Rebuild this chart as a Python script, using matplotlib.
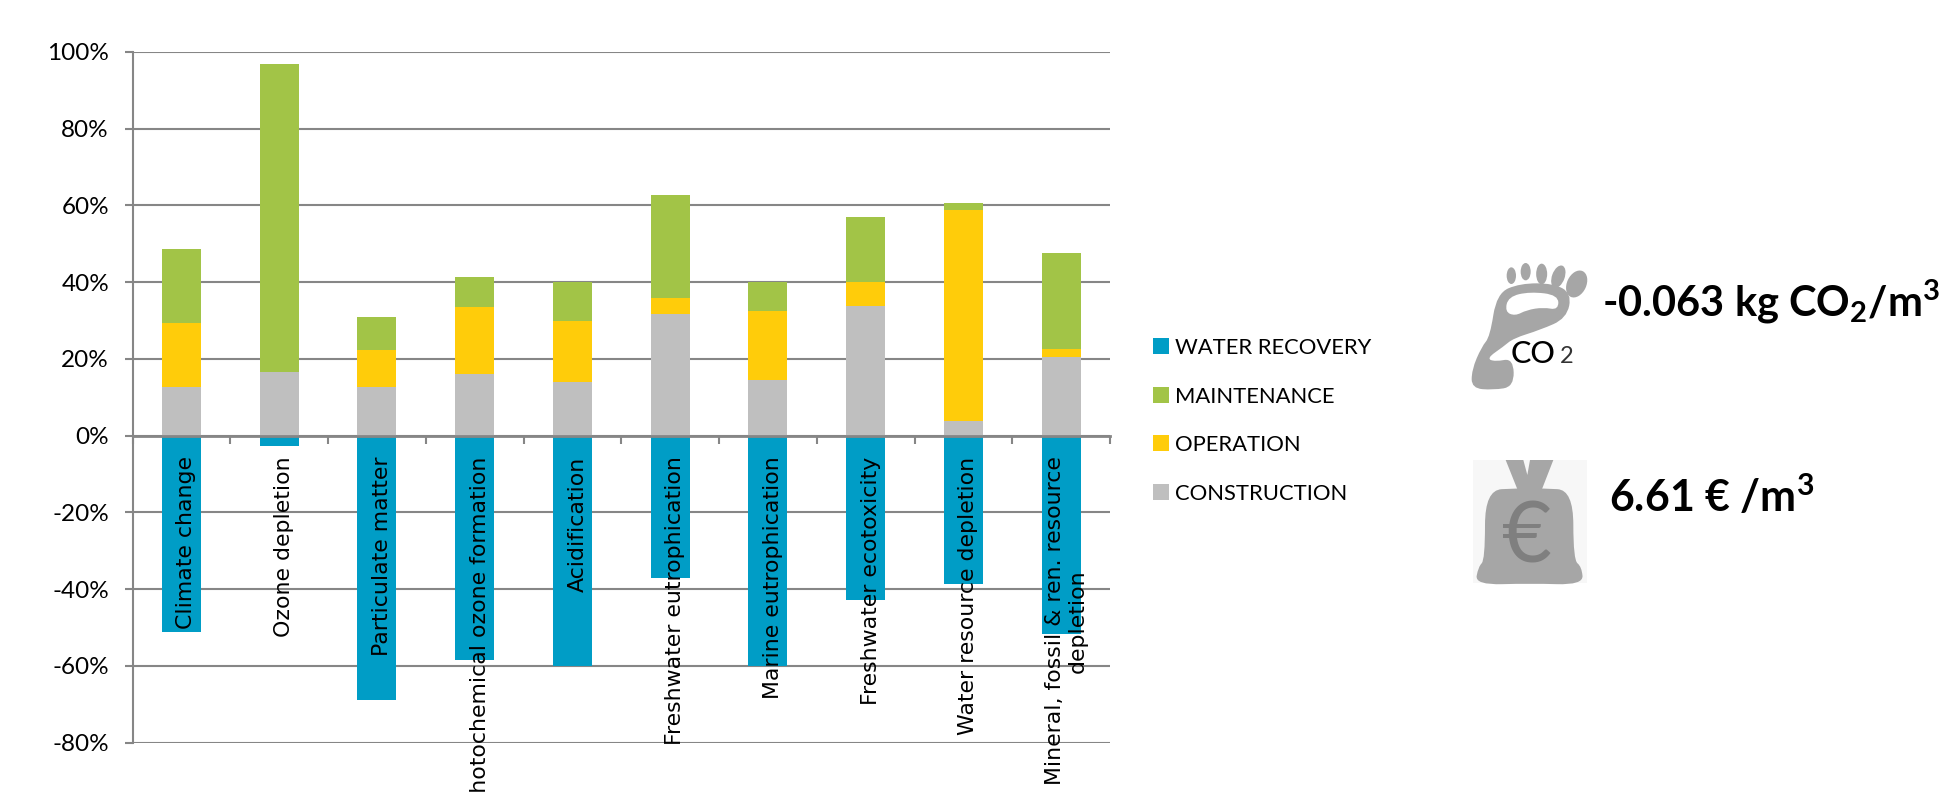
import matplotlib
matplotlib.use("Agg")
import matplotlib.pyplot as plt
from matplotlib.patches import Ellipse, PathPatch, Polygon, Rectangle
from matplotlib.path import Path
from matplotlib.transforms import ScaledTranslation

plt.rcParams["font.family"] = ["Lato", "DejaVu Sans"]
plt.rcParams["mathtext.fontset"] = "custom"
plt.rcParams["mathtext.bf"] = "Lato:bold"

# ================== Data ======================
categories = ["Climate change", "Ozone depletion", "Particulate matter",
              "Photochemical ozone formation", "Acidification",
              "Freshwater eutrophication", "Marine eutrophication",
              "Freshwater ecotoxicity", "Water resource depletion",
              "Mineral, fossil & ren. resource\ndepletion"]
construction = [12.6, 16.5, 12.6, 16.0, 14.0, 31.6, 14.5, 33.9, 3.9, 20.6]
operation = [16.8, 0.2, 9.7, 17.5, 16.0, 4.2, 18.1, 6.1, 54.8, 2.0]
maintenance = [19.3, 80.3, 8.7, 7.8, 10.0, 26.8, 7.4, 17.0, 1.9, 25.1]
water_recovery = [-51.1, -2.8, -68.8, -58.4, -60.0, -37.2, -60.0, -42.9, -38.7, -51.7]
y_ticks = [-80, -60, -40, -20, 0, 20, 40, 60, 80, 100]

GREY = "#868686"
W, H = 1944, 792

fig = plt.figure(figsize=(W / 100, H / 100), dpi=100)
ax = fig.add_axes([132.6 / W, 1 - 742.5 / H, (1110 - 132.6) / W, (742.5 - 52) / H])

# spine position resets the ticks, so it goes first
for s in ["top", "right"]:
    ax.spines[s].set_visible(False)
ax.spines["left"].set_color(GREY)
ax.spines["left"].set_linewidth(1.5)
ax.spines["bottom"].set_position(("data", 0))
ax.spines["bottom"].set_color(GREY)
ax.spines["bottom"].set_linewidth(2)

# ================== Bars ======================
x = [i + 0.5 for i in range(len(categories))]
for v in y_ticks:
    ax.axhline(v, color=GREY, lw=1.5, zorder=1)

b_op = [a + b for a, b in zip(construction, operation)]
ax.bar(x, construction, 0.4, color="#BFBFBF", label="CONSTRUCTION", zorder=2)
ax.bar(x, operation, 0.4, bottom=construction, color="#FFCC0A", label="OPERATION", zorder=2)
ax.bar(x, maintenance, 0.4, bottom=b_op, color="#A2C447", label="MAINTENANCE", zorder=2)
ax.bar(x, water_recovery, 0.4, color="#009DC6", label="WATER RECOVERY", zorder=2)

# tick labels sit on top of the bars
ax.set_axisbelow(False)
ax.set_xlim(0, 10)
ax.set_ylim(-80, 100)
ax.set_yticks(y_ticks)
ax.set_yticklabels([f"{v}%" for v in y_ticks], fontsize=17.5)
ax.tick_params(axis="y", length=6, width=1.5, color=GREY, pad=11)

ax.set_xticks(range(11))
ax.set_xticklabels([])
ax.tick_params(axis="x", which="major", direction="out", length=6, width=1.5, color=GREY)
ax.set_xticks(x, minor=True)
ax.tick_params(axis="x", which="minor", length=0, pad=15)
ax.set_xticklabels(categories, minor=True, rotation=90, va="top", ha="center",
                   family="DejaVu Sans", fontsize=15.8)
# labels sit a few pixels right of the bar centre
shift = ScaledTranslation(5 / 100, 0, fig.dpi_scale_trans)
for lab in ax.get_xticklabels(minor=True):
    lab.set_multialignment("center")
    lab.set_transform(lab.get_transform() + shift)

# ================== Legend ======================
h, l = ax.get_legend_handles_labels()
fig.legend(h[::-1], l[::-1], loc="upper left", bbox_to_anchor=(1153 / W, 1 - 338 / H),
           frameon=False, fontsize=15.8, handlelength=0.75, handleheight=0.75,
           handletextpad=0.27, labelspacing=1.3, borderpad=0, borderaxespad=0)

# ================== Right side ======================
over = fig.add_axes([0, 0, 1, 1])
over.set_xlim(0, W)
over.set_ylim(H, 0)
over.axis("off")


def pt(zx, zy):
    return 1440 + zx / 3, 230 + zy / 3


def blob(points, color):
    # closed smooth outline, points are control points
    pts = [pt(*p) for p in points]
    verts, codes = [], []
    n = len(pts)
    mid = lambda a, b: ((a[0] + b[0]) / 2, (a[1] + b[1]) / 2)
    verts.append(mid(pts[-1], pts[0]))
    codes.append(Path.MOVETO)
    for i in range(n):
        verts += [pts[i], mid(pts[i], pts[(i + 1) % n])]
        codes += [Path.CURVE3, Path.CURVE3]
    over.add_patch(PathPatch(Path(verts, codes), fc=color, ec="none"))


foot = "#A6A6A6"
blob([(95, 420), (125, 350), (150, 320), (170, 190), (240, 160), (340, 160), (395, 190),
      (380, 265), (300, 300), (220, 325), (190, 350), (140, 385), (165, 395), (220, 385),
      (222, 470), (160, 480), (95, 475)], foot)
blob([(205, 200), (270, 185), (355, 195), (355, 240), (310, 232), (260, 240), (225, 258), (195, 245)], "white")
for cx, cy, w, hh, ang in [(214, 137, 28, 50, 0), (257, 125, 30, 52, 0), (305, 132, 33, 62, 0),
                           (355, 140, 38, 70, 20), (410, 162, 58, 85, 25)]:
    c = pt(cx, cy)
    over.add_patch(Ellipse(c, w / 3, hh / 3, angle=ang, fc=foot, ec="none"))
over.text(*pt(213, 398), "CO", fontsize=22, color="black", va="baseline", ha="left", weight="medium")
over.text(*pt(360, 398), "2", fontsize=17, color="#333333", va="baseline", ha="left")

over.add_patch(Rectangle(pt(100, 690), 342 / 3, 370 / 3, fc="#F7F7F7", ec="none"))
bag = "#A6A6A6"
over.add_patch(Polygon([pt(197, 690), pt(250, 690), pt(262, 735), pt(270, 690), pt(340, 690),
                        pt(303, 785), pt(235, 785)], fc=bag, ec="none"))
blob([(235, 775), (305, 775), (400, 780), (400, 990), (425, 1010), (430, 1065), (270, 1060),
      (105, 1065), (115, 1010), (135, 990), (135, 780)], bag)
over.text(*pt(262, 925), "€", fontsize=62, color="#7F7F7F", ha="center", va="center", family="Lato")

over.text(1602, 317, r"-0.063 kg CO$\mathbf{_2}$/m$\mathbf{^3}$", fontsize=30, weight="bold",
          va="baseline", ha="left")
over.text(1609, 512, r"6.61 € /m$\mathbf{^3}$", fontsize=31, weight="bold", va="baseline", ha="left")

fig.savefig("out.png", dpi=100)
